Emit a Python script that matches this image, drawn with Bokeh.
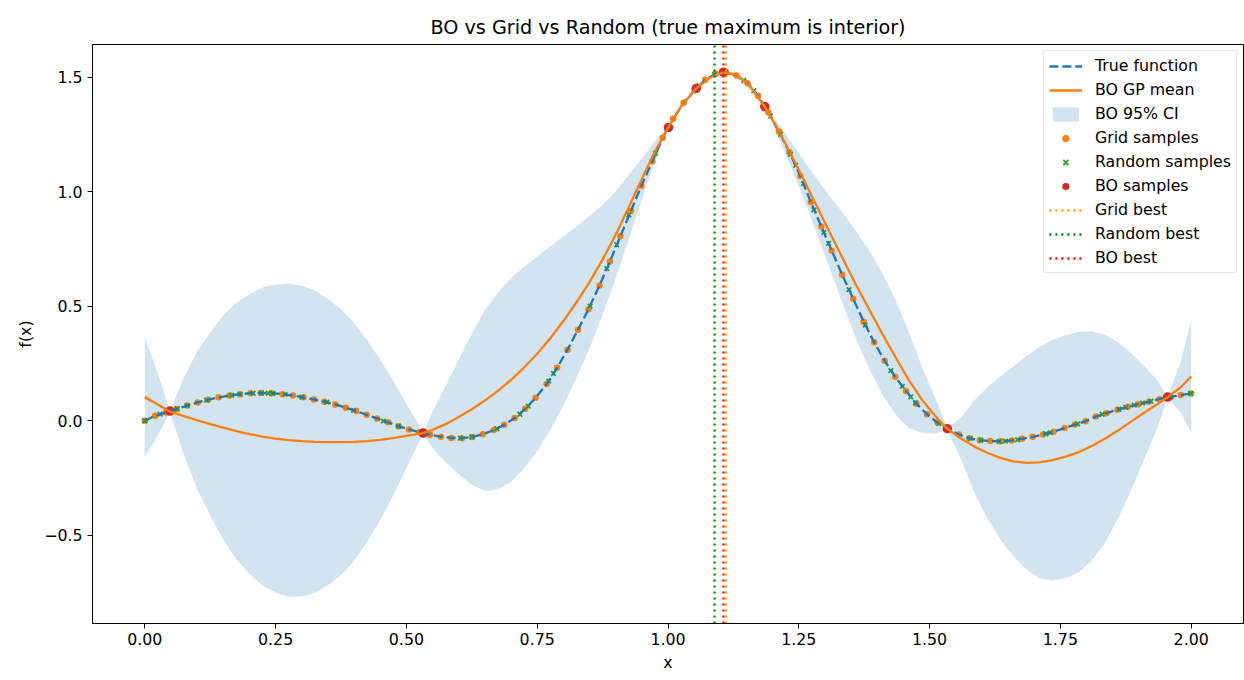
from bokeh.plotting import figure
from bokeh.models import (Range1d, FixedTicker, CustomJSTickFormatter,
                          Legend, LegendItem)
from bokeh.embed import file_html
from bokeh.resources import INLINE

FONT = "DejaVu Sans"
TICK_FS = "15.8px"
TITLE_FS = "19.2px"

# ---------------- data ----------------
x_ticks = [0.0, 0.25, 0.5, 0.75, 1.0, 1.25, 1.5, 1.75, 2.0]
y_ticks = [-0.5, 0.0, 0.5, 1.0, 1.5]
x_lim = (-0.1, 2.1)
y_lim = (-0.885, 1.642)

# grid samples (100 evenly spaced points) and true function values there
grid_x = [0.000, 0.020, 0.040, 0.061, 0.081, 0.101, 0.121, 0.141, 0.162, 0.182,
          0.202, 0.222, 0.242, 0.263, 0.283, 0.303, 0.323, 0.343, 0.364, 0.384,
          0.404, 0.424, 0.444, 0.465, 0.485, 0.505, 0.525, 0.545, 0.566, 0.586,
          0.606, 0.626, 0.646, 0.667, 0.687, 0.707, 0.727, 0.747, 0.768, 0.788,
          0.808, 0.828, 0.848, 0.869, 0.889, 0.909, 0.929, 0.949, 0.970, 0.990,
          1.010, 1.030, 1.051, 1.071, 1.091, 1.111, 1.131, 1.152, 1.172, 1.192,
          1.212, 1.232, 1.253, 1.273, 1.293, 1.313, 1.333, 1.354, 1.374, 1.394,
          1.414, 1.434, 1.455, 1.475, 1.495, 1.515, 1.535, 1.556, 1.576, 1.596,
          1.616, 1.636, 1.657, 1.677, 1.697, 1.717, 1.737, 1.758, 1.778, 1.798,
          1.818, 1.838, 1.859, 1.879, 1.899, 1.919, 1.939, 1.960, 1.980, 2.000]
true_y = [0.000, 0.022, 0.036, 0.051, 0.066, 0.080, 0.092, 0.102, 0.110, 0.116,
          0.120, 0.121, 0.120, 0.116, 0.110, 0.102, 0.093, 0.083, 0.071, 0.057,
          0.042, 0.026, 0.010, -0.007, -0.024, -0.038, -0.050, -0.061, -0.070, -0.075,
          -0.076, -0.071, -0.059, -0.041, -0.018, 0.012, 0.052, 0.100, 0.160, 0.231,
          0.310, 0.397, 0.487, 0.590, 0.695, 0.805, 0.915, 1.025, 1.132, 1.235,
          1.318, 1.388, 1.443, 1.488, 1.514, 1.521, 1.507, 1.473, 1.418, 1.345,
          1.262, 1.172, 1.068, 0.955, 0.848, 0.742, 0.637, 0.532, 0.432, 0.343,
          0.262, 0.192, 0.130, 0.074, 0.028, -0.008, -0.036, -0.060, -0.077, -0.085,
          -0.089, -0.090, -0.086, -0.079, -0.070, -0.060, -0.048, -0.032, -0.017, -0.002,
          0.018, 0.033, 0.048, 0.061, 0.072, 0.083, 0.094, 0.104, 0.112, 0.119]

# random samples
rand_x = [0.000, 0.029, 0.062, 0.081, 0.118, 0.166, 0.182, 0.207, 0.223, 0.236,
          0.245, 0.268, 0.300, 0.348, 0.399, 0.456, 0.485, 0.603, 0.625, 0.673,
          0.717, 0.733, 0.772, 0.781, 0.851, 0.883, 0.902, 0.925, 0.976, 0.998,
          1.059, 1.089, 1.145, 1.164, 1.196, 1.215, 1.234, 1.244, 1.259, 1.279,
          1.298, 1.307, 1.346, 1.377, 1.426, 1.448, 1.464, 1.473, 1.518, 1.578,
          1.598, 1.633, 1.645, 1.668, 1.722, 1.731, 1.783, 1.830, 1.862, 1.875,
          1.891, 1.907, 1.923, 1.961, 1.999]
rand_y = [0.000, 0.029, 0.052, 0.066, 0.090, 0.111, 0.116, 0.120, 0.121, 0.120,
          0.119, 0.115, 0.103, 0.081, 0.045, -0.002, -0.024, -0.076, -0.071, -0.035,
          0.028, 0.064, 0.173, 0.206, 0.500, 0.664, 0.768, 0.898, 1.167, 1.273,
          1.462, 1.512, 1.485, 1.440, 1.330, 1.250, 1.162, 1.115, 1.035, 0.920,
          0.822, 0.774, 0.572, 0.418, 0.219, 0.150, 0.104, 0.078, -0.012, -0.077,
          -0.085, -0.090, -0.089, -0.083, -0.057, -0.052, -0.014, 0.028, 0.050, 0.058,
          0.068, 0.077, 0.085, 0.104, 0.119]

# Bayesian optimisation samples
bo_x = [0.048, 0.532, 1.001, 1.054, 1.106, 1.185, 1.534, 1.955]
bo_y = [0.042, -0.054, 1.280, 1.450, 1.521, 1.371, -0.035, 0.103]

# GP posterior mean and 95% half-width
gp_x = [0.000, 0.025, 0.048, 0.075, 0.100, 0.125, 0.150, 0.175, 0.200, 0.225,
        0.250, 0.275, 0.300, 0.325, 0.350, 0.375, 0.400, 0.425, 0.450, 0.475,
        0.500, 0.532,
        0.550, 0.575, 0.600, 0.625, 0.650, 0.675, 0.700, 0.725, 0.750, 0.775,
        0.800, 0.825, 0.850, 0.875, 0.900, 0.925, 0.950, 0.975, 1.000,
        1.025, 1.054, 1.080, 1.105, 1.130, 1.155, 1.185,
        1.210, 1.235, 1.260, 1.285, 1.310, 1.335, 1.360, 1.385, 1.410, 1.435,
        1.460, 1.485, 1.510, 1.534,
        1.560, 1.585, 1.610, 1.635, 1.660, 1.685, 1.710, 1.735, 1.760, 1.785,
        1.810, 1.835, 1.860, 1.885, 1.910, 1.935, 1.955, 1.980, 2.000]
gp_mean = [0.103, 0.071, 0.040, 0.020, 0.002, -0.015, -0.030, -0.045, -0.058, -0.069,
           -0.078, -0.085, -0.089, -0.092, -0.093, -0.093, -0.092, -0.089, -0.084, -0.076,
           -0.066, -0.054,
           -0.040, -0.015, 0.016, 0.050, 0.088, 0.130, 0.178, 0.232, 0.292, 0.360,
           0.435, 0.517, 0.605, 0.703, 0.812, 0.932, 1.055, 1.175, 1.278,
           1.372, 1.450, 1.497, 1.520, 1.510, 1.465, 1.371,
           1.272, 1.163, 1.050, 0.934, 0.818, 0.704, 0.590, 0.483, 0.378, 0.277,
           0.178, 0.093, 0.023, -0.035,
           -0.078, -0.112, -0.140, -0.162, -0.177, -0.184, -0.182, -0.172, -0.157, -0.137,
           -0.110, -0.079, -0.043, -0.004, 0.035, 0.072, 0.103, 0.146, 0.193]
ci_half = [0.260, 0.135, 0.004, 0.170, 0.300, 0.400, 0.490, 0.560, 0.610, 0.650,
           0.672, 0.683, 0.678, 0.660, 0.625, 0.580, 0.520, 0.440, 0.350, 0.250,
           0.140, 0.004,
           0.080, 0.165, 0.250, 0.330, 0.395, 0.430, 0.445, 0.440, 0.425, 0.400,
           0.370, 0.330, 0.290, 0.240, 0.190, 0.140, 0.090, 0.045, 0.004,
           0.012, 0.004, 0.008, 0.003, 0.010, 0.015, 0.004,
           0.030, 0.055, 0.085, 0.120, 0.160, 0.200, 0.235, 0.258, 0.265, 0.250,
           0.210, 0.145, 0.080, 0.004,
           0.090, 0.200, 0.285, 0.355, 0.415, 0.465, 0.505, 0.525, 0.530, 0.525,
           0.500, 0.455, 0.385, 0.300, 0.205, 0.105, 0.004, 0.110, 0.245]

assert len(gp_x) == len(gp_mean) == len(ci_half)
assert len(grid_x) == len(true_y)
assert len(rand_x) == len(rand_y)

ci_upper = [m + h for m, h in zip(gp_mean, ci_half)]
ci_lower = [m - h for m, h in zip(gp_mean, ci_half)]

grid_best_x = grid_x[max(range(len(true_y)), key=lambda i: true_y[i])]
random_best_x = rand_x[max(range(len(rand_y)), key=lambda i: rand_y[i])]
bo_best_x = bo_x[max(range(len(bo_y)), key=lambda i: bo_y[i])]

# ---------------- figure ----------------
p = figure(width=1244, height=680, output_backend="svg", toolbar_location=None,
           x_range=Range1d(*x_lim), y_range=Range1d(*y_lim),
           min_border_left=92, min_border_right=1, min_border_top=44,
           min_border_bottom=57,
           title="BO vs Grid vs Random (true maximum is interior)")
p.background_fill_color = "white"
p.border_fill_color = "white"
p.outline_line_color = "black"
p.outline_line_width = 1
p.grid.visible = False

p.title.align = "center"
p.title.text_font = FONT
p.title.text_font_size = TITLE_FS
p.title.text_font_style = "normal"
p.title.text_color = "black"
p.title.standoff = 11

for ax in (p.xaxis[0], p.yaxis[0]):
    ax.axis_line_color = "black"
    ax.axis_line_width = 1
    ax.major_tick_line_color = "black"
    ax.major_tick_line_width = 1
    ax.major_tick_in = 0
    ax.major_tick_out = 5
    ax.minor_tick_line_color = None
    ax.major_label_text_font = FONT
    ax.major_label_text_font_size = TICK_FS
    ax.major_label_text_color = "black"
    ax.axis_label_text_font = FONT
    ax.axis_label_text_font_size = TICK_FS
    ax.axis_label_text_font_style = "normal"
    ax.axis_label_text_color = "black"

p.xaxis.ticker = FixedTicker(ticks=x_ticks)
p.xaxis.formatter = CustomJSTickFormatter(code="return tick.toFixed(2);")
p.xaxis.axis_label = "x"
p.xaxis.major_label_standoff = 4
p.xaxis.axis_label_standoff = 5

p.yaxis.ticker = FixedTicker(ticks=y_ticks)
p.yaxis.formatter = CustomJSTickFormatter(
    code="return tick.toFixed(1).replace('-', '\u2212');")
p.yaxis.axis_label = "f(x)"
p.yaxis.major_label_standoff = 5
p.yaxis.axis_label_standoff = 6

# ---------------- marks ----------------
band = p.varea(x=gp_x, y1=ci_lower, y2=ci_upper,
               fill_color="#1f77b4", fill_alpha=0.2)
grid_r = p.scatter(grid_x, true_y, marker="circle", size=6.5,
                   fill_color="#ff7f0e", line_color=None)
rand_r = p.scatter(rand_x, rand_y, marker="x", size=6.5,
                   line_color="#2ca02c", line_width=1.8)
bo_r = p.scatter(bo_x, bo_y, marker="circle", size=9.5,
                 fill_color="#d62728", line_color=None)
true_r = p.line(grid_x, true_y, line_color="#1f77b4", line_width=2.3,
                line_dash="9 4")
mean_r = p.line(gp_x, gp_mean, line_color="#ff7f0e", line_width=2.3)

vl_styles = [(grid_best_x, "orange"), (random_best_x, "green"), (bo_best_x, "red")]
vlines = []
for loc, col in vl_styles:
    vlines.append(p.line(x=[loc, loc], y=list(y_lim), line_color=col,
                         line_width=2.3, line_dash="2 4"))

legend = Legend(items=[
    LegendItem(label="True function", renderers=[true_r]),
    LegendItem(label="BO GP mean", renderers=[mean_r]),
    LegendItem(label="BO 95% CI", renderers=[band]),
    LegendItem(label="Grid samples", renderers=[grid_r]),
    LegendItem(label="Random samples", renderers=[rand_r]),
    LegendItem(label="BO samples", renderers=[bo_r]),
    LegendItem(label="Grid best", renderers=[vlines[0]]),
    LegendItem(label="Random best", renderers=[vlines[1]]),
    LegendItem(label="BO best", renderers=[vlines[2]]),
], location="top_right")
legend.margin = 6
legend.padding = 5
legend.spacing = 5
legend.glyph_width = 33
legend.glyph_height = 18
legend.label_height = 18
legend.label_standoff = 13
legend.label_text_font = FONT
legend.label_text_font_size = TICK_FS
legend.label_text_color = "black"
legend.border_line_color = "#cccccc"
legend.border_line_width = 1
legend.background_fill_alpha = 0.8
p.add_layout(legend)

open("out.html", "w").write(file_html(p, INLINE))
